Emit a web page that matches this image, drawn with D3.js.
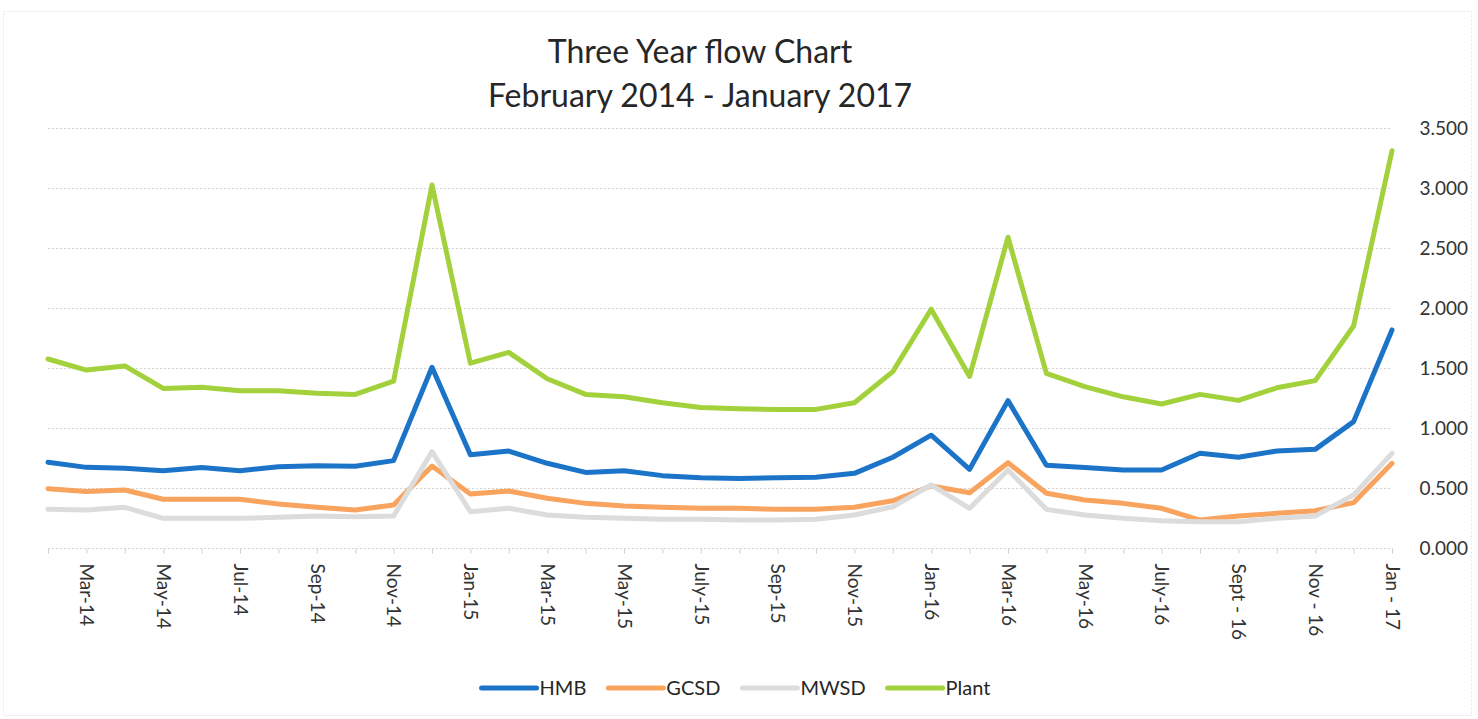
<!DOCTYPE html>
<html>
<head>
<meta charset="utf-8">
<script src="https://cdn.jsdelivr.net/npm/d3@7/dist/d3.min.js"></script>
<style>
  html, body { margin: 0; padding: 0; background: #fff; }
  svg { display: block; font-family: Lato, "Open Sans", sans-serif; }
</style>
</head>
<body>
<svg id="chart" width="1478" height="719"></svg>
<script>
// Monthly categories, February 2014 through January 2017
const categories = [
  "Feb-14", "Mar-14", "Apr-14", "May-14", "Jun-14", "Jul-14", "Aug-14", "Sep-14", "Oct-14", "Nov-14", "Dec-14",
  "Jan-15", "Feb-15", "Mar-15", "Apr-15", "May-15", "June-15", "July-15", "Aug-15", "Sep-15", "Oct-15", "Nov-15", "Dec-15",
  "Jan-16", "Feb-16", "Mar-16", "Apr-16", "May-16", "June-16", "July-16", "Aug-16", "Sept - 16", "Oct - 16", "Nov - 16", "Dec - 16",
  "Jan - 17"
];

// Flow per month for each source
const hmb = [
  0.714, 0.672, 0.664, 0.644, 0.670, 0.644, 0.678, 0.686, 0.682, 0.728, 1.506,
  0.778, 0.808, 0.706, 0.630, 0.644, 0.603, 0.586, 0.580, 0.586, 0.590, 0.622, 0.756,
  0.940, 0.656, 1.228, 0.690, 0.670, 0.650, 0.650, 0.790, 0.756, 0.808, 0.822, 1.053,
  1.817
];
const gcsd = [
  0.494, 0.470, 0.483, 0.406, 0.406, 0.406, 0.367, 0.339, 0.317, 0.358, 0.683,
  0.450, 0.475, 0.414, 0.372, 0.350, 0.339, 0.331, 0.331, 0.322, 0.322, 0.339, 0.394,
  0.517, 0.461, 0.711, 0.456, 0.400, 0.372, 0.331, 0.233, 0.267, 0.289, 0.311, 0.378,
  0.706
];
const mwsd = [
  0.322, 0.317, 0.339, 0.247, 0.247, 0.247, 0.256, 0.267, 0.260, 0.267, 0.803,
  0.303, 0.331, 0.275, 0.256, 0.247, 0.239, 0.239, 0.233, 0.233, 0.239, 0.275, 0.344,
  0.525, 0.331, 0.650, 0.322, 0.275, 0.247, 0.228, 0.219, 0.219, 0.247, 0.267, 0.442,
  0.789
];
const plant = [
  1.575, 1.483, 1.517, 1.330, 1.340, 1.310, 1.310, 1.290, 1.280, 1.390, 3.025,
  1.540, 1.630, 1.410, 1.280, 1.260, 1.210, 1.170, 1.160, 1.155, 1.155, 1.210, 1.470,
  1.990, 1.430, 2.590, 1.455, 1.345, 1.260, 1.200, 1.280, 1.230, 1.335, 1.395, 1.850,
  3.310
];

const yTicks = [0, 0.5, 1, 1.5, 2, 2.5, 3, 3.5];

const seriesNames = ["HMB", "GCSD", "MWSD", "Plant"];
const seriesValues = [hmb, gcsd, mwsd, plant];
const seriesColors = ["#1c74c9", "#f8a35e", "#dcdcdc", "#a2d13c"];

const titleLines = ["Three Year flow Chart", "February 2014 - January 2017"];

const svg = d3.select("#chart");
const W = 1478, H = 719;
const plot = { left: 48, right: 1392, top: 128, bottom: 548 };

svg.append("rect").attr("width", W).attr("height", H).attr("fill", "#fff");

// faint chart-area frame
svg.append("rect")
  .attr("x", 3.5).attr("y", 11.5)
  .attr("width", 1468).attr("height", 704)
  .attr("fill", "none")
  .attr("stroke", "#e6e6e6")
  .attr("stroke-dasharray", "2,2");

const x = d3.scalePoint().domain(categories).range([plot.left, plot.right]);
const y = d3.scaleLinear().domain([0, 3.5]).range([plot.bottom, plot.top]);

// horizontal gridlines
svg.append("g")
  .selectAll("line")
  .data(yTicks)
  .join("line")
  .attr("x1", plot.left).attr("x2", plot.right)
  .attr("y1", d => y(d) + 0.5).attr("y2", d => y(d) + 0.5)
  .attr("stroke", "#d4d4d4")
  .attr("stroke-width", 1)
  .attr("stroke-dasharray", "2,2");

// value axis on the right
const yAxis = svg.append("g")
  .attr("transform", `translate(${1468},0)`)
  .call(d3.axisRight(y).tickValues(yTicks).tickSize(0).tickFormat(d3.format(".3f")));
yAxis.select(".domain").remove();
yAxis.selectAll("text")
  .attr("x", 0)
  .attr("text-anchor", "end")
  .attr("fill", "#333")
  .style("font-size", "19px")
  .style("font-family", "Lato, sans-serif");

// category axis: every month ticked, every other month labelled
const xAxis = svg.append("g")
  .attr("transform", `translate(0,${plot.bottom + 0.5})`)
  .call(d3.axisBottom(x).tickSize(5).tickFormat((d, i) => (i % 2 === 1 ? d : "")));
xAxis.select(".domain").remove();
xAxis.selectAll(".tick line").attr("stroke", "#cfcfcf");
xAxis.selectAll(".tick text")
  .attr("transform", "rotate(90)")
  .attr("x", 15)
  .attr("y", 0)
  .attr("dy", "0.35em")
  .attr("text-anchor", "start")
  .attr("fill", "#333")
  .style("font-size", "19px")
  .style("font-family", "Lato, sans-serif");

// series lines
const line = d3.line()
  .x((d, i) => x(categories[i]))
  .y(d => y(d));

svg.append("g")
  .selectAll("path")
  .data(seriesValues)
  .join("path")
  .attr("d", d => line(d))
  .attr("fill", "none")
  .attr("stroke", (d, i) => seriesColors[i])
  .attr("stroke-width", 5)
  .attr("stroke-linejoin", "round")
  .attr("stroke-linecap", "round");

// title
svg.append("g")
  .selectAll("text")
  .data(titleLines)
  .join("text")
  .attr("x", 700)
  .attr("y", (d, i) => 63 + i * 44)
  .attr("text-anchor", "middle")
  .attr("fill", "#262626")
  .style("font-size", "32px")
  .text(d => d);

// legend
const legend = svg.append("g");
const items = legend.selectAll("g")
  .data(seriesNames)
  .join("g");
items.append("line")
  .attr("x1", 0).attr("x2", 55)
  .attr("y1", 0).attr("y2", 0)
  .attr("stroke", (d, i) => seriesColors[i])
  .attr("stroke-width", 5)
  .attr("stroke-linecap", "round");
items.append("text")
  .attr("x", 58)
  .attr("dy", "0.35em")
  .attr("fill", "#262626")
  .style("font-size", "20px")
  .text(d => d);

let cursor = 0;
const gap = 22;
items.each(function () {
  const w = this.getBBox().width;
  d3.select(this).attr("transform", `translate(${cursor},0)`);
  cursor += w + gap;
});
const total = cursor - gap;
legend.attr("transform", `translate(${736 - total / 2},688)`);
</script>
</body>
</html>
